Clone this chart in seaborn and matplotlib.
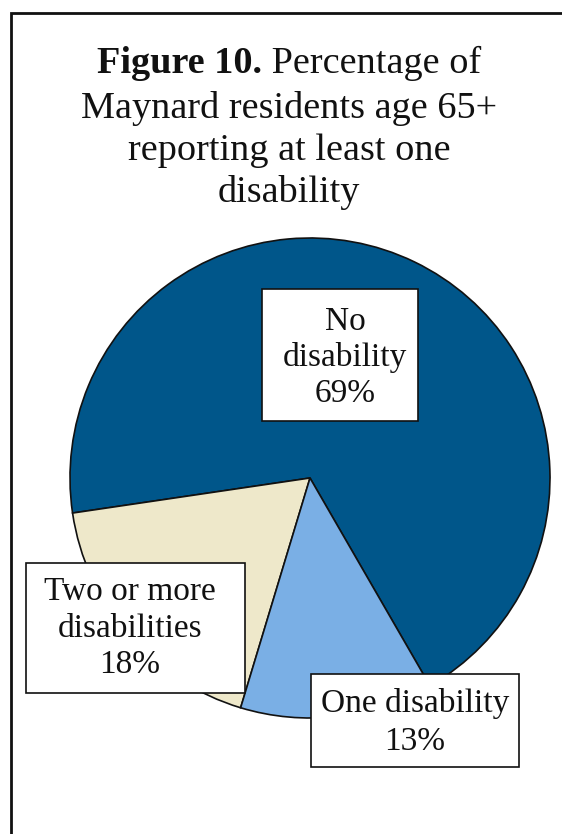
import matplotlib
matplotlib.use("Agg")
import matplotlib.pyplot as plt
import seaborn as sns
from matplotlib.patches import Rectangle
from matplotlib.offsetbox import TextArea, HPacker, AnnotationBbox

categories = ["No disability", "Two or more disabilities", "One disability"]
values = [69, 18, 13]
label_lines = [["No", "disability", "69%"],
               ["Two or more", "disabilities", "18%"],
               ["One disability", "13%"]]
colors = ["#00568A", "#EEE8CA", "#7AAFE5"]

sns.set_theme(style="white")
plt.rcParams["font.family"] = ["Liberation Serif", "DejaVu Serif"]
plt.rcParams["text.color"] = "#111111"

W, H = 562, 834
fig = plt.figure(figsize=(W / 100, H / 100), dpi=100)
ax = fig.add_axes([0, 0, 1, 1])

# outer border
fig.patches.append(Rectangle((11 / W, -0.1), 1.2, (H - 13) / H + 0.1, transform=fig.transFigure,
                             fill=False, edgecolor="#111111", linewidth=2))

ax.pie(values, colors=colors, startangle=-60, counterclock=True,
       center=(310, H - 478), radius=240,
       wedgeprops=dict(edgecolor="#111111", linewidth=1.2))
ax.set_xlim(0, W)
ax.set_ylim(0, H)
ax.set_aspect("equal")
ax.axis("off")

# title
fs_title = 27.5
title_x = 289
title_base = [75, 118, 160, 202]
bold = TextArea("Figure 10.", textprops=dict(fontsize=fs_title, fontweight="bold", color="#111111"))
reg = TextArea(" Percentage of", textprops=dict(fontsize=fs_title, color="#111111"))
pack = HPacker(children=[bold, reg], align="baseline", pad=0, sep=0)
ab = AnnotationBbox(pack, (title_x, H - title_base[0] - 6), frameon=False, box_alignment=(0.5, 0.0))
ax.add_artist(ab)
for txt, y in zip(["Maynard residents age 65+", "reporting at least one", "disability"], title_base[1:]):
    ax.text(title_x, H - y, txt, ha="center", va="baseline", fontsize=fs_title)

# label boxes (pixel boxes: x0, y0, x1, y1), text centres and baselines
boxes = [(262, 289, 418, 421), (26, 563, 245, 693), (311, 674, 519, 767)]
text_x = [345, 130, 415]
baselines = [[330, 366, 402], [600, 637, 673], [712, 750]]
for lines, (x0, y0, x1, y1), tx, bl in zip(label_lines, boxes, text_x, baselines):
    ax.add_patch(Rectangle((x0, H - y1), x1 - x0, y1 - y0, facecolor="white",
                           edgecolor="#111111", linewidth=1.2, zorder=3))
    for txt, b in zip(lines, bl):
        ax.text(tx, H - b, txt, ha="center", va="baseline", fontsize=24, zorder=4)

fig.savefig("out.png", dpi=100)
